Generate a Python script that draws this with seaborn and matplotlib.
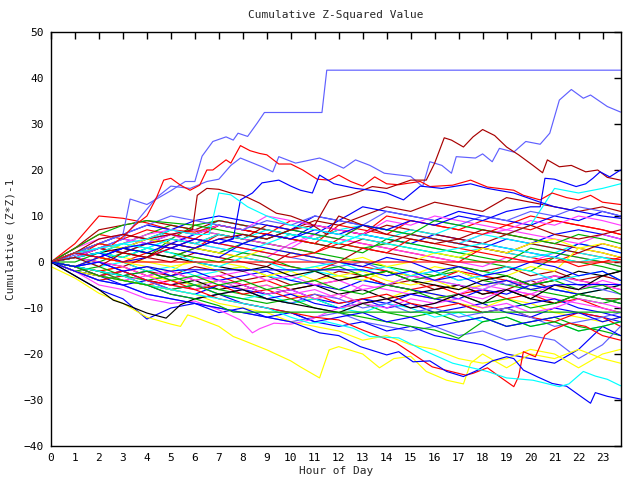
import matplotlib
matplotlib.use("Agg")
import matplotlib.pyplot as plt
import seaborn as sns
import pandas as pd

# ---------------- data ----------------
grid_hours = list(range(24)) + [23.75]

palette = {
    "red": "#ff0000", "green": "#00b000", "blue": "#0000ff", "magenta": "#ff40ff",
    "cyan": "#00ffff", "darkred": "#a80000", "yellow": "#ffff00", "black": "#000000",
    "slate": "#6060ff",
}

# hourly cluster series (values at grid_hours)
cluster_colors = [
    "red", "green", "blue", "magenta", "cyan", "darkred", "yellow", "green", "blue", "red",
    "magenta", "cyan", "darkred", "black", "slate", "green", "blue", "red", "yellow", "magenta",
    "cyan", "darkred", "green", "blue", "red", "cyan", "yellow", "magenta", "black", "blue",
    "green", "red", "slate", "darkred", "cyan", "yellow", "magenta", "blue", "green", "red",
    "red", "darkred", "blue", "magenta", "cyan", "slate", "green",
    "slate", "blue", "green", "yellow", "blue",
]
cluster_values = [
    [0, 2, 4, 3, 5, 4, 3, 6, 5, 4, 3, 2, 5, 4, 3, 2, 1, 0, 3, 2, 1, 0, 2, 1, 0.5],
    [0, 1, 0, 2, 1, 5, 8, 9, 8, 7, 6, 5, 4, 3, 4, 3, 2, 1, 0, -1, -2, 1, 0, -1, -2],
    [0, -1, -2, -3, -2, -4, -5, -4, -6, -7, -6, -8, -9, -8, -10, -9, -11, -10, -9, -11, -12, -10, -11, -12, -13],
    [0, 3, 5, 6, 5, 6, 4, 3, 2, 1, 4, 6, 5, 4, 3, 2, 1, 0, -1, 1, 0, 2, 1, 0, -1],
    [0, 2, 3, 2, 4, 7, 6, 9, 8, 7, 6, 5, 4, 6, 5, 4, 3, 2, 3, 2, 1, 2, 4, 3, 2],
    [0, -1, 1, 0, -2, -3, -1, -2, -4, -3, -5, -4, -2, -3, -5, -4, -6, -5, -7, -6, -4, -6, -7, -8, -8],
    [0, -1, -2, -1, -3, -4, -5, -4, -6, -5, -7, -8, -7, -9, -8, -6, -7, -9, -10, -8, -9, -11, -12, -13, -12],
    [0, 1, 2, 4, 6, 8, 7, 6, 5, 4, 3, 2, 1, 0, -1, -2, -3, -2, -4, -5, -6, -7, -8, -9, -8],
    [0, 2, 1, 3, 5, 4, 6, 8, 7, 6, 5, 8, 7, 6, 5, 4, 6, 5, 4, 3, 2, 1, 4, 3, 2],
    [0, -1, -2, -1, -3, -2, -4, -3, -5, -4, -6, -5, -4, -3, -5, -6, -5, -7, -6, -8, -7, -9, -8, -10, -11],
    [0, -1, -3, -2, -4, -5, -3, -4, -6, -5, -7, -6, -8, -5, -6, -7, -8, -7, -5, -6, -7, -8, -9, -10, -11],
    [0, 1, -1, 0, -2, -1, -3, -2, -1, -3, -4, -2, -3, -4, -5, -3, -4, -5, -6, -4, -5, -6, -7, -6, -5],
    [0, 3, 7, 8, 9, 8, 7, 9, 8, 7, 6, 5, 7, 6, 8, 7, 6, 5, 4, 6, 5, 4, 3, 2, 1],
    [0, -2, -3, -2, -4, -5, -4, -6, -5, -7, -6, -5, -7, -6, -8, -7, -6, -5, -7, -6, -8, -9, -7, -6, -5],
    [0, 1, 3, 2, 4, 3, 5, 4, 3, 2, 1, 0, -1, 0, -2, -3, -2, -4, -3, -5, -4, -3, -5, -6, -7],
    [0, -1, -2, -3, -4, -3, -5, -6, -7, -8, -9, -8, -10, -9, -11, -12, -11, -13, -12, -14, -13, -12, -14, -15, -16],
    [0, 1, 3, 5, 4, 6, 5, 4, 6, 5, 7, 6, 9, 8, 7, 6, 5, 4, 3, 5, 4, 6, 7, 6, 5],
    [0, 2, 1, 0, 2, 1, 3, 2, 1, 0, -1, -2, 0, -1, -2, -3, -4, -2, -3, -4, -5, -3, -4, -5, -6],
    [0, 1, 2, 1, 0, -1, 0, -2, -1, -3, -2, -4, -3, -2, -4, -5, -4, -6, -5, -4, -6, -5, -7, -8, -9],
    [0, 2, 3, 5, 4, 6, 7, 6, 5, 4, 3, 6, 5, 8, 7, 6, 5, 4, 6, 7, 6, 5, 4, 6, 5],
    [0, -2, -4, -3, -5, -6, -5, -7, -8, -7, -9, -8, -10, -11, -9, -10, -12, -11, -13, -12, -14, -13, -15, -14, -13],
    [0, 1, 0, -1, 1, 0, 2, 1, 0, -1, 2, 1, 0, 3, 2, 1, 0, -1, -2, -1, -3, -2, -4, -3, -4],
    [0, 2, 4, 3, 2, 1, 3, 2, 4, 6, 5, 4, 3, 2, 5, 4, 3, 2, 1, 0, 3, 2, 1, 0, -1],
    [0, -1, 0, -2, -1, -3, -2, -4, -3, -2, -4, -5, -6, -4, -5, -6, -7, -8, -6, -7, -5, -6, -7, -8, -9],
    [0, 3, 6, 5, 7, 6, 5, 8, 7, 6, 9, 8, 7, 6, 10, 9, 8, 7, 9, 8, 10, 9, 8, 7, 6],
    [0, 2, 3, 4, 3, 5, 4, 3, 2, 4, 6, 5, 7, 8, 7, 6, 5, 4, 6, 5, 4, 3, 2, 1, 0],
    [0, -1, 1, 0, -1, -2, 1, 0, -1, -3, -2, -1, -3, -4, -2, -3, -1, -2, -4, -3, -1, -2, 3, 2, 1],
    [0, 1, 0, -1, -3, -2, -4, -3, -2, -4, -3, -5, -4, -6, -5, -3, -4, -5, -6, -4, -5, -3, -4, -5, -6],
    [0, 1, 2, 3, 2, 1, 0, -1, -2, -1, -3, -2, -4, -3, -2, -4, -5, -6, -4, -3, -5, -4, -2, -3, -2],
    [0, -2, -3, -5, -4, -6, -7, -5, -6, -8, -7, -9, -10, -8, -9, -7, -8, -9, -11, -10, -9, -8, -10, -11, -12],
    [0, 0, 2, 1, 3, 2, 1, 0, 2, 1, -1, -2, -1, -3, -2, -4, -3, -1, -2, -3, -5, -4, -6, -5, -7],
    [0, -2, -4, -3, -5, -4, -6, -5, -7, -6, -8, -7, -9, -8, -7, -9, -10, -9, -11, -10, -12, -13, -11, -12, -14],
    [0, -1, -3, -2, -4, -6, -5, -7, -6, -8, -9, -7, -8, -10, -9, -11, -10, -12, -11, -10, -12, -14, -13, -12, -11],
    [0, 2, 4, 6, 5, 7, 6, 8, 7, 6, 5, 4, 3, 5, 4, 6, 5, 4, 3, 2, 4, 3, 2, 4, 3],
    [0, 1, 2, 1, 3, 2, 0, -1, 1, 0, -2, -1, 0, -2, -1, -3, -2, -4, -3, -1, -2, -4, -3, -2, -4],
    [0, 2, 4, 3, 5, 4, 3, 2, 1, 3, 2, 1, 0, 1, -1, 0, 2, 1, 3, 2, 4, 5, 3, 4, 3],
    [0, -1, -2, -4, -3, -5, -6, -4, -5, -7, -6, -8, -7, -9, -8, -10, -9, -8, -10, -9, -11, -10, -8, -9, -10],
    [0, 1, 2, 0, 1, 3, 2, 1, 4, 3, 2, 1, 0, -1, 1, 0, -2, -1, -3, -2, 0, -1, -3, -2, -4],
    [0, -2, -1, -3, -2, -4, -3, -5, -4, -6, -5, -4, -6, -7, -5, -6, -8, -7, -9, -8, -10, -9, -7, -8, -9],
    [0, 1, 3, 2, 1, 3, 5, 4, 3, 2, 1, 2, 4, 3, 2, 5, 4, 3, 2, 1, 0, 1, -1, 0, 1],
    [0, 4, 10, 9.5, 8.5, 7, 6.5, 8, 7, 6, 5, 4, 8, 7, 6, 9, 8, 7, 6, 8, 7, 9, 8, 7, 6],
    [0, 1, 3, 2, 4, 5, 4, 6, 5, 8, 7, 9, 8, 10, 12, 11, 13, 12, 11, 14, 13, 12, 11, 12, 11],
    [0, 2, 4, 6, 8, 7, 9, 10, 9, 8, 7, 10, 9, 12, 11, 10, 9, 11, 10, 9, 8, 10, 9, 11, 10],
    [0, 1, 3, 4, 6, 7, 6, 8, 7, 10, 9, 8, 7, 6, 9, 8, 10, 9, 8, 7, 9, 8, 10, 9, 8],
    [0, 1, 2, 4, 3, 5, 4, 6, 5, 7, 6, 5, 4, 6, 5, 7, 6, 8, 7, 6, 8, 16, 15, 16, 17],
    [0, 2, 4, 6, 8, 10, 9, 8, 7, 9, 8, 10, 9, 8, 11, 10, 9, 8, 10, 9, 11, 10, 12, 11, 10],
    [0, 3, 6, 8, 9, 8.5, 8, 7, 6, 5, 7, 6, 5, 8, 7, 6, 9, 8, 7, 6, 5, 4, 6, 5, 4],
    [0, -2, -4, -5, -7, -8, -9, -10, -11, -12, -13, -12, -11, -13, -14, -15, -14, -16, -15, -17, -16, -17, -21, -18, -14],
    [0, -1, -3, -4, -5, -7, -8, -7, -9, -10, -11, -13, -14, -13, -15, -14, -16, -17, -18, -20, -21, -22, -19, -14, -16],
    [0, -1, -2, -4, -5, -6, -5, -7, -8, -9, -8, -10, -11, -12, -13, -14, -14.8, -16.6, -13, -12, -14, -13, -15, -14, -13],
    [0, -2, -3, -4, -5, -6, -7, -9, -10, -11, -13, -14, -15, -17, -16, -18, -19, -21, -22, -21, -19, -20, -23, -20, -19],
    [0, -3, -6, -8, -12.4, -10, -9, -11, -10, -12, -11, -13, -12, -11, -13, -12, -14, -13, -12, -14, -13, -12, -11, -13, -12],
]

# outlying series with their own time knots
top_hours = [0, 1, 2, 3, 3.3, 4, 5, 5.6, 6.0, 6.3, 6.75, 7.3, 7.6, 7.8, 8.2, 8.6, 8.9, 11.3, 11.5, 23.75]
top_values = [0, 2, 4, 6, 13.7, 12.5, 15.5, 17.5, 17.5, 23, 26.2, 27.2, 26.5, 28, 27.3, 30.2, 32.5, 32.5, 41.7, 41.7]

second_hours = [0, 1, 2, 3, 3.6, 4.4, 5, 5.8, 6.5, 7, 7.5, 7.9, 8.8, 9.25, 9.5, 10.2, 11.2, 11.6, 12.2, 12.7, 13.3,
                13.9, 15, 15.5, 15.8, 16.3, 16.7, 16.9, 17.7, 18, 18.4, 18.7, 19.3, 19.8, 20.4, 20.8, 21.2, 21.7,
                22.2, 22.5, 23.2, 23.75]
second_values = [0, 1.5, 3, 5, 9, 14, 16.5, 16, 17.5, 18, 21, 22.6, 20.7, 19.6, 22.9, 21.5, 22.6, 21.8, 20.4, 22.2, 21,
                 19.3, 18.6, 16.4, 21.8, 21, 19.3, 22.9, 22.6, 23.5, 21.8, 24.7, 23.9, 26.2, 25.6, 28, 35.2, 37.5,
                 35.6, 36.3, 33.8, 32.6]

red_hi_hours = [0, 0.5, 1, 1.5, 2, 2.5, 3, 3.5, 4, 4.4, 4.7, 5, 5.4, 5.8, 6.2, 6.5, 6.75, 7.3, 7.5, 7.9, 8.3, 8.7, 9,
                9.5, 10, 10.5, 11.1, 11.6, 12, 12.5, 13, 13.5, 14, 14.5, 15, 15.4, 15.8, 16.75, 17.5, 18.2, 19.3,
                19.7, 20.4, 20.9, 21.5, 22, 22.5, 23, 23.75]
red_hi_values = [0, 1, 2, 2.5, 4, 3.5, 5.5, 8, 10, 14, 17.8, 18.2, 16.7, 15.6, 16.7, 20, 20, 22.2, 21.5, 25.3, 24.2,
                 23.6, 23.3, 21.3, 21.3, 20, 18, 17.8, 18.9, 17.5, 16.5, 18.5, 17, 16.8, 17.2, 17.5, 16.4, 16.7, 17.8,
                 16.3, 15.6, 14.5, 13.5, 15, 14, 13.5, 14.5, 13, 12.5]

maroon_peak_hours = [0, 1, 2, 3, 4, 5, 6, 7, 8, 9, 10, 11, 11.6, 12.5, 13.4, 14, 15, 15.65, 16, 16.4, 16.7, 17.2, 17.6,
                     18, 18.5, 19, 19.5, 20.1, 20.5, 20.7, 21.2, 21.7, 22.3, 22.8, 23.2, 23.75]
maroon_peak_values = [0, 1, -1, 2, 1, 4, 3, 5, 6, 5, 7, 8, 13.5, 14.6, 16.4, 16, 17.8, 17.8, 21.5, 27, 26.5, 25, 27.2,
                      28.8, 27.5, 25, 23.3, 21, 19.4, 22.2, 20.7, 21, 19.6, 20, 18.4, 17.8]

maroon_mid_hours = [0, 1, 2, 3, 4, 5, 5.9, 6.1, 6.5, 7, 7.5, 8, 8.7, 9.4, 10, 10.8, 11.5, 12, 13, 14, 15, 16, 17, 18,
                    19, 20, 21, 22, 23, 23.75]
maroon_mid_values = [0, 2, 5, 6, 5, 6, 7, 14.5, 16, 15.8, 15, 14.5, 12.8, 10.6, 10, 8.4, 6, 10, 8, 6, 5, 4, 5, 7, 6,
                     8, 6, 5, 6, 7]

blue_late_hours = [0, 1, 2, 3, 4, 5, 6, 7, 8, 9, 10, 11, 12, 13, 14, 15, 16, 17, 18, 19, 20, 20.4, 20.6, 21, 21.9,
                   22.3, 22.6, 22.9, 23.3, 23.75]
blue_late_values = [0, -1, 1, 3, 2, 4, 3, 5, 4, 6, 5, 7, 6, 8, 7, 9, 8, 10, 9, 11, 12, 12, 18.2, 18, 16.4, 17, 18.2,
                    19.6, 18.5, 20]

blue_mid_hours = [0, 1, 2, 3, 4, 5, 6, 7, 7.6, 7.9, 8.4, 8.8, 9.5, 10, 10.4, 10.9, 11.2, 11.8, 12.7, 13.5, 14, 14.7,
                  15.4, 16.3, 17.5, 18.2, 19.3, 20.4, 21, 22, 23, 23.75]
blue_mid_values = [0, 2, 1, 3, 4, 3, 5, 4, 5, 13.5, 15, 17.2, 17.8, 16.5, 15.6, 15, 18.9, 17, 16, 15.5, 15, 13.5,
                   16.5, 16, 17, 16, 15, 13, 12, 11, 10, 9.5]

cyan_jump_hours = [0, 1, 2, 3, 4, 5, 6, 6.6, 7, 7.5, 8.2, 9, 10, 11, 12, 13, 14, 15, 16, 17, 18, 19, 20, 21, 22, 23,
                   23.75]
cyan_jump_values = [0, 2, 3, 4, 5, 7, 6, 6, 15, 14.6, 12, 10, 8, 7, 6, 5, 4, 3, 2, 3, 4, 3, 2, 1, 0, 1, 0]

yellow_low_hours = [0, 1, 2, 3, 4, 5, 5.4, 5.7, 6, 7, 7.6, 8, 9, 10, 10.4, 11.2, 11.6, 12, 13, 13.7, 14.3, 15, 15.65,
                    16.5, 17.2, 17.5, 18, 19, 20, 21, 22, 23, 23.75]
yellow_low_values = [-1, -3.5, -6.8, -9, -12, -13.5, -14, -11.5, -12, -14, -16.2, -17, -19.1, -21.5, -22.8, -25.2,
                     -19.1, -18.4, -20, -23, -21, -20.5, -23.8, -25.7, -26.5, -22, -20, -23, -20, -21, -19, -21, -22]

magenta_low_hours = [0, 1, 2, 3, 4, 5, 6, 7, 7.9, 8.4, 8.7, 9.3, 10, 10.8, 11.5, 12, 13, 14, 15, 16, 17, 18, 19, 20,
                     21, 22, 23, 23.75]
magenta_low_values = [0, -2, -5, -6, -8, -9, -8.5, -10.4, -12.6, -15.4, -14.5, -13.3, -13.5, -12.6, -11, -10, -9, -10,
                      -8, -9, -7, -8, -6, -7, -5, -6, -4, -5]

black_low_hours = [0, 1, 2, 2.6, 3, 4, 4.8, 5.4, 6, 7, 8, 9, 10, 11, 12, 13, 14, 15, 16, 17, 18, 19, 20, 21, 22, 23,
                   23.75]
black_low_values = [0, -3, -6, -8.3, -9, -11.1, -12.2, -9.3, -8, -7, -6, -8, -9, -10, -11, -9, -8, -10, -9, -7, -9,
                    -6, -8, -5, -6, -3, -2]

red_low_hours = [0, 1, 2, 3, 4, 5, 6, 7, 8, 9, 10, 11, 12, 13, 14.4, 15.9, 17.3, 17.6, 18.2, 18.7, 19.3, 19.5, 19.7,
                 20.2, 20.6, 20.9, 21.6, 22.3, 23, 23.75]
red_low_values = [0, -1, -3, -2, -4, -5, -6, -8, -9, -10, -11, -12, -12.6, -14.8, -17.6, -22.8, -24.6, -24.2, -23,
                  -24.9, -27.1, -24.9, -19.5, -20.6, -15.9, -14.8, -13.3, -14, -16, -17]

blue_low_hours = [0, 1, 2, 3, 4, 5, 6, 7, 8, 9, 10, 11.2, 12, 12.9, 14, 14.5, 15.1, 15.8, 16.5, 17.2, 17.8, 18.4, 19,
                  19.3, 19.7, 20.3, 20.9, 21.5, 22.2, 22.5, 22.7, 23.2, 23.75]
blue_low_values = [0, -2, -4, -5, -7, -8, -9, -10, -11, -12, -13, -15.4, -16, -18.4, -20.2, -19.5, -21.7, -21.5,
                   -23.8, -24.9, -23.5, -21.5, -20.6, -21, -23.5, -25, -26.4, -27, -29.6, -30.7, -28.4, -29.2, -29.8]

cyan_low_hours = [0, 1, 2, 3, 4, 5, 6, 7, 8, 9, 10, 10.8, 11.5, 12.6, 13.3, 14.5, 15.5, 16.75, 18.2, 19, 20.1, 21.2,
                  21.6, 22.2, 22.7, 23.2, 23.75]
cyan_low_values = [0, -1, -2, -3, -5, -6, -7, -8, -9, -10, -12, -13.3, -13, -14.4, -16.2, -16.5, -19.1, -22, -23.8,
                   -25.2, -25.7, -27.1, -26.5, -23.8, -24.8, -25.5, -26.9]

green_flat_hours = [0, 1, 2, 3, 4, 5, 6, 7, 7.6, 23.75]
green_flat_values = [0, -1, -3, -4, -5, -7, -8, -9.5, -10.9, -10.9]

red_flat_hours = [0, 1, 2, 3, 23.75]
red_flat_values = [0, 2, 1, 0, 0]

blue_flat_hours = [0, 1, 2, 3, 4, 5, 5.5, 13, 14, 15, 16, 17, 18, 19, 20, 21, 21.5, 23.75]
blue_flat_values = [0, -1, 0, -2, -1, -2, -1.7, -1.7, -3, -2, -4, -3, -5, -4, -6, -5, -4.9, -4.9]

knot_series = [
    ("slate", top_hours, top_values),
    ("slate", second_hours, second_values),
    ("red", red_hi_hours, red_hi_values),
    ("darkred", maroon_peak_hours, maroon_peak_values),
    ("darkred", maroon_mid_hours, maroon_mid_values),
    ("blue", blue_late_hours, blue_late_values),
    ("blue", blue_mid_hours, blue_mid_values),
    ("cyan", cyan_jump_hours, cyan_jump_values),
    ("yellow", yellow_low_hours, yellow_low_values),
    ("magenta", magenta_low_hours, magenta_low_values),
    ("black", black_low_hours, black_low_values),
    ("red", red_low_hours, red_low_values),
    ("blue", blue_low_hours, blue_low_values),
    ("cyan", cyan_low_hours, cyan_low_values),
    ("green", green_flat_hours, green_flat_values),
    ("red", red_flat_hours, red_flat_values),
    ("blue", blue_flat_hours, blue_flat_values),
]

x_ticks = list(range(24))
y_ticks = [-40, -30, -20, -10, 0, 10, 20, 30, 40, 50]

# ---------------- build long table ----------------
rows = []
color_of = {}
n = 0
for col, vals in zip(cluster_colors, cluster_values):
    sid = f"s{n:03d}"
    color_of[sid] = palette[col]
    for h, v in zip(grid_hours, vals):
        rows.append((sid, h, v))
    n += 1
for col, hs, vs in knot_series:
    sid = f"s{n:03d}"
    color_of[sid] = palette[col]
    for h, v in zip(hs, vs):
        rows.append((sid, h, v))
    n += 1
df = pd.DataFrame(rows, columns=["series", "hour", "value"])

# ---------------- plot ----------------
sns.set_style("white")
plt.rcParams["font.family"] = ["DejaVu Sans Mono"]
fig = plt.figure(figsize=(6.4, 4.8), dpi=100)
ax = fig.add_axes([51 / 640, 1 - 446 / 480, (620.5 - 51) / 640, (446 - 32) / 480])

sns.lineplot(data=df, x="hour", y="value", hue="series", palette=color_of, legend=False,
             estimator=None, sort=False, linewidth=0.85, ax=ax, antialiased=True)

ax.set_xlim(0, 23.75)
ax.set_ylim(-40, 50)
ax.set_xticks(x_ticks)
ax.set_xticklabels([str(t) for t in x_ticks])
ax.set_yticks(y_ticks)
ax.tick_params(direction="in", length=5, width=1, top=True, right=True, labelsize=8, pad=5, colors="black")
for s in ax.spines.values():
    s.set_visible(True)
    s.set_color("black")
    s.set_linewidth(1)

ax.set_title("Cumulative Z-Squared Value", fontsize=8, pad=10)
ax.set_xlabel("Hour of Day", fontsize=8, labelpad=2)
ax.set_ylabel("Cumulative (Z*Z)-1", fontsize=8, labelpad=6)

fig.savefig("out.png", dpi=100, facecolor="white")
